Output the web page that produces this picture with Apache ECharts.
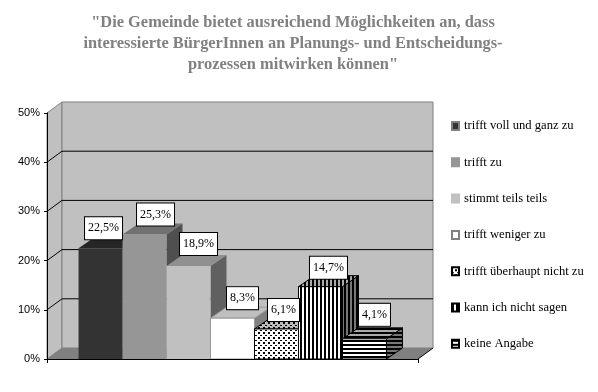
<!DOCTYPE html>
<html>
<head>
<meta charset="utf-8">
<style>html,body{margin:0;padding:0;background:#fff}#c{width:598px;height:392px}</style>
<script src="https://cdn.jsdelivr.net/npm/echarts@6/dist/echarts.min.js"></script>
</head>
<body>
<div id="c"></div>
<script>
const titleLines = ['"Die Gemeinde bietet ausreichend Möglichkeiten an, dass', 'interessierte BürgerInnen an Planungs- und Entscheidungs-', 'prozessen mitwirken können"'];
const answers = ['trifft voll und ganz zu', 'trifft zu', 'stimmt teils teils', 'trifft weniger zu', 'trifft überhaupt nicht zu', 'kann ich nicht sagen', 'keine Angabe'];
const shares = [22.5, 25.3, 18.9, 8.3, 6.1, 14.7, 4.1];
const valueTicks = [0, 10, 20, 30, 40, 50];

function pat(size, bg, fg, draw) {
  const c = document.createElement('canvas');
  c.width = size; c.height = size;
  const g = c.getContext('2d');
  g.fillStyle = bg; g.fillRect(0, 0, size, size);
  g.fillStyle = fg; draw(g);
  return { image: c, repeat: 'repeat' };
}
const dots = (bg, fg) => pat(5, bg, fg, g => { g.fillRect(0, 0, 2, 1); g.fillRect(3, 2, 2, 2); });
const vert = (bg, fg) => pat(4, bg, fg, g => g.fillRect(0, 0, 2, 4));
const horiz = (bg, fg) => pat(4, bg, fg, g => g.fillRect(0, 0, 4, 2));

const looks = [
  { front: '#333333', top: '#262626', side: '#262626', stroke: null, legendBorder: '#808080' },
  { front: '#969696', top: '#717171', side: '#4f4f4f', stroke: null, legendBorder: '#969696' },
  { front: '#c0c0c0', top: '#909090', side: '#606060', stroke: null, legendBorder: '#c0c0c0' },
  { front: '#ffffff', top: '#bfbfbf', side: '#808080', stroke: '#999999', legendBorder: '#808080' },
  { front: dots('#fff', '#000'), top: dots('#bbb', '#000'), side: dots('#888', '#000'), stroke: '#000', legendBorder: '#000' },
  { front: vert('#fff', '#000'), top: vert('#aaa', '#000'), side: vert('#777', '#000'), stroke: '#000', legendBorder: '#000' },
  { front: horiz('#fff', '#000'), top: horiz('#aaa', '#000'), side: horiz('#777', '#000'), stroke: '#000', legendBorder: '#000' }
];
const labelShift = [[3, -20], [11, -20], [10, -22], [10, -20], [7, -19], [8, -19], [10, -24]];
const wallDepth = [15, -11], barDepth = [16, -11];
const barShare = 0.83;

function poly(points, fill, stroke, lw) {
  return { type: 'polygon', shape: { points }, style: { fill, stroke: stroke || null, lineWidth: lw || 0 } };
}

function renderWalls(params, api) {
  const [x0, y0] = api.coord([0, 0]);
  const band = api.size([1, 0])[0];
  const xL = x0 - band / 2, xR = x0 + band / 2;
  const yT = api.coord([0, 50])[1];
  const [dx, dy] = wallDepth;
  const kids = [
    poly([[xL, y0], [xL + dx, y0 + dy], [xL + dx, yT + dy], [xL, yT]], '#c0c0c0', '#808080', 1),
    poly([[xL + dx, y0 + dy], [xR + dx, y0 + dy], [xR + dx, yT + dy], [xL + dx, yT + dy]], '#c0c0c0', '#808080', 1),
    poly([[xL, y0], [xR, y0], [xR + dx, y0 + dy], [xL + dx, y0 + dy]], '#808080'),
    { type: 'line', shape: { x1: xR, y1: y0, x2: xR + dx, y2: y0 + dy }, style: { stroke: '#000', lineWidth: 1 } }
  ];
  valueTicks.slice(1, -1).forEach(t => {
    const y = api.coord([0, t])[1];
    kids.push({ type: 'polyline', shape: { points: [[xL, y], [xL + dx, y + dy], [xR + dx, y + dy]] }, style: { fill: null, stroke: '#000', lineWidth: 1 } });
  });
  return { type: 'group', children: kids };
}

function renderBar(i) {
  return function (params, api) {
    const [cx, y0] = api.coord([0, 0]);
    const band = api.size([1, 0])[0];
    const w = band * barShare / answers.length;
    const x = cx - w * answers.length / 2 + i * w;
    const v = api.value(1);
    const y = api.coord([0, v])[1];
    const [dx, dy] = barDepth;
    const L = looks[i];
    const lw = L.stroke ? 1 : 0;
    const [sx, sy] = labelShift[i];
    return {
      type: 'group',
      children: [
        poly([[x + w, y0], [x + w + dx, y0 + dy], [x + w + dx, y + dy], [x + w, y]], L.side, L.stroke, lw),
        poly([[x, y], [x + w, y], [x + w + dx, y + dy], [x + dx, y + dy]], L.top, L.stroke, lw),
        poly([[x, y0], [x + w, y0], [x + w, y], [x, y]], L.front, L.stroke, lw),
        {
          type: 'text', z2: 100,
          style: {
            x: x + w / 2 + sx, y: y + sy,
            text: v.toFixed(1).replace('.', ',') + '%',
            font: '12px "Liberation Serif"', fill: '#000', align: 'center', verticalAlign: 'middle',
            backgroundColor: '#fff', borderColor: '#000', borderWidth: 1, padding: [5, 3, 5, 3]
          }
        }
      ]
    };
  };
}

const chart = echarts.init(document.getElementById('c'), null, { renderer: 'canvas' });
chart.setOption({
  animation: false,
  backgroundColor: '#fff',
  title: {
    text: titleLines.join('\n'), left: 288, top: 7, textAlign: 'center',
    textStyle: { color: '#808080', fontFamily: 'Liberation Serif', fontWeight: 'bold', fontSize: 16.4, lineHeight: 21 }
  },
  grid: { left: 47, right: 180, top: 113, bottom: 33, containLabel: false },
  xAxis: {
    type: 'category', data: [''], z: 5,
    axisLine: { show: true, lineStyle: { color: '#000', width: 1 } },
    axisTick: { show: true, alignWithLabel: false, length: 4, lineStyle: { color: '#000' } },
    axisLabel: { show: false }, splitLine: { show: false }
  },
  yAxis: {
    type: 'value', min: 0, max: 50, interval: 10, z: 5,
    axisLine: { show: true, lineStyle: { color: '#000', width: 1 } },
    axisTick: { show: true, length: 3, lineStyle: { color: '#000' } },
    axisLabel: { formatter: '{value}%', margin: 7, color: '#000', fontFamily: 'Liberation Sans', fontSize: 11 },
    splitLine: { show: false }
  },
  legend: {
    orient: 'vertical', left: 451, top: 119, padding: 0, data: answers, icon: 'rect',
    itemWidth: 7, itemHeight: 8, itemGap: 22.3,
    selectedMode: false,
    textStyle: { color: '#000', fontFamily: 'Liberation Serif', fontSize: 12.6, lineHeight: 14 }
  },
  series: [
    { type: 'custom', name: 'walls', silent: true, clip: false, z: 1, data: [[0, 50]], encode: { x: 0, y: 1 }, renderItem: renderWalls }
  ].concat(answers.map((name, i) => ({
    type: 'custom', name, silent: true, clip: false, z: 2,
    data: [[0, shares[i]]], encode: { x: 0, y: 1 },
    itemStyle: { color: looks[i].front, borderColor: looks[i].legendBorder, borderWidth: 1 },
    renderItem: renderBar(i)
  })))
});
</script>
</body>
</html>
